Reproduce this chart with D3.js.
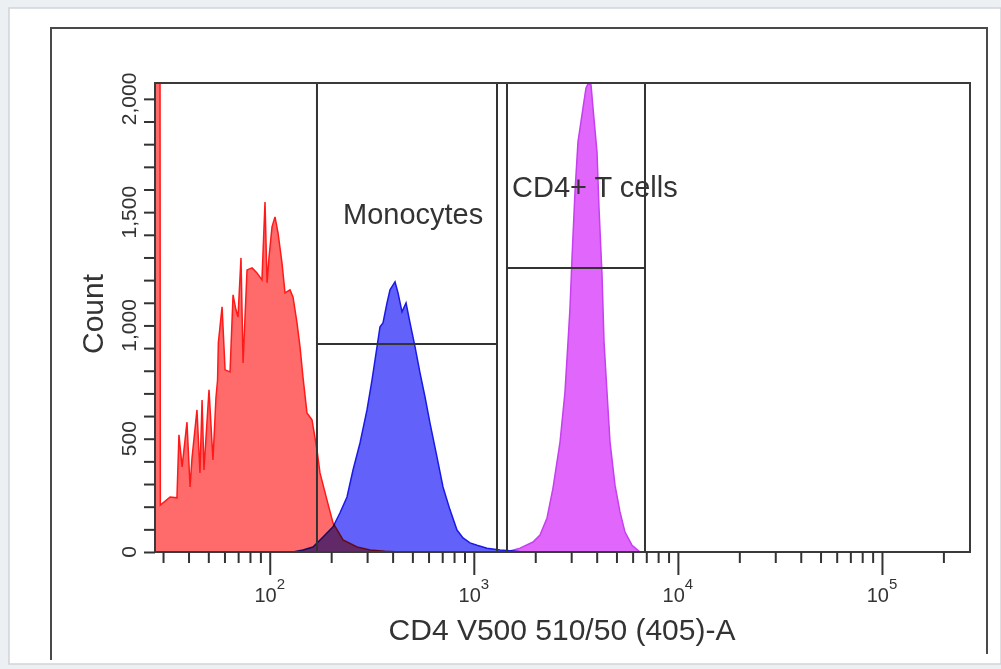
<!DOCTYPE html>
<html><head><meta charset="utf-8">
<script src="https://cdn.jsdelivr.net/npm/d3@7"></script>
<style>
html,body{margin:0;padding:0;background:#edf0f3;}
svg{display:block;font-family:"Liberation Sans",Arial,sans-serif;}
</style></head><body>
<svg id="chart" width="1001" height="669"></svg>
<script>
// ---- data ----
const redX = [27.4, 28.9, 29.1, 32.5, 35.1, 35.9, 37.2, 39.3, 40.7, 41.6, 44.0, 45.5, 46.6, 47.6, 50.4, 52.7, 54.5, 55.5, 56.0, 58.4, 60.4, 63.9, 66.1, 68.3, 69.9, 72.3, 74.0, 77.4, 81.9, 86.6, 91.6, 94.8, 97.0, 99.2, 102.6, 106.1, 109.8, 114.8, 118.8, 125.7, 130.0, 136.0, 140.7, 145.5, 152.2, 161.1, 170.4, 176.3, 190.8, 204.2, 228.6, 267.7, 309.9, 367.1, 434.8];
const redCount = [4000, 4000, 207, 243, 239, 517, 376, 573, 287, 415, 627, 349, 671, 362, 716, 406, 680, 759, 923, 1082, 804, 795, 1135, 1069, 1037, 1298, 834, 1245, 1254, 1232, 1201, 1545, 1188, 1302, 1435, 1479, 1409, 1276, 1144, 1157, 1126, 1011, 905, 772, 614, 583, 451, 349, 229, 128, 53, 22, 9, 3, 0];

const blueX = [130, 145.5, 162.9, 182.4, 204.2, 221.0, 239.1, 255.9, 276.9, 299.6, 317.0, 335.4, 347.0, 358.9, 375.5, 388.5, 411.1, 425.2, 444.8, 465.4, 486.9, 515.2, 544.9, 576.6, 610.0, 660.1, 706.3, 764.3, 827.1, 885.2, 957.9, 1036.6, 1160.2, 1344.2, 1556.0, 1750];
const blueCount = [0, 9, 22, 66, 111, 173, 243, 362, 481, 627, 759, 905, 994, 1011, 1099, 1157, 1192, 1144, 1060, 1099, 1011, 905, 791, 684, 569, 419, 287, 186, 97, 62, 40, 30, 17, 9, 4, 0];

const magX = [1400, 1504, 1684, 1950, 2110, 2284, 2443, 2645, 2797, 2894, 2960, 3028, 3132, 3239, 3428, 3546, 3627, 3752, 3837, 4014, 4106, 4248, 4345, 4494, 4649, 4918, 5203, 5506, 5958, 6523];
const magCount = [0, 4, 17, 44, 75, 150, 282, 485, 706, 927, 1077, 1298, 1590, 1810, 1960, 2048, 2066, 2062, 1960, 1766, 1518, 1223, 927, 706, 485, 295, 177, 88, 30, 0];

const gateNames = ["Monocytes", "CD4+ T cells"];
const gateLow = [170.4, 1454];
const gateHigh = [1299, 6899];
const gateLevel = [918, 1254];

const xMajorTicks = [100, 1000, 10000, 100000];
const xMajorExp = ["2", "3", "4", "5"];
const xMinorTicks = [30, 40, 50, 60, 70, 80, 90, 200, 300, 400, 500, 600, 700, 800, 900,
  2000, 3000, 4000, 5000, 6000, 7000, 8000, 9000,
  20000, 30000, 40000, 50000, 60000, 70000, 80000, 90000, 200000];
const yTicks = [0,100,200,300,400,500,600,700,800,900,1000,1100,1200,1300,1400,1500,1600,1700,1800,1900,2000];
const yLabelValues = [0, 500, 1000, 1500, 2000];
const yLabels = ["0", "500", "1,000", "1,500", "2,000"];
const xTitle = "CD4 V500 510/50 (405)-A";
const yTitle = "Count";

// ---- drawing ----
const svg = d3.select("#chart");
const L = 155, R = 970, T = 83, B = 552;
const x = d3.scaleLog().domain([27.4, 270000]).range([L, R]);
const y = d3.scaleLinear().domain([0, 2070]).range([B, T]);

// panel backgrounds
svg.append("rect").attr("x", 9).attr("y", 8).attr("width", 992).attr("height", 656)
  .attr("fill", "#fff").attr("stroke", "#cfd4d9").attr("stroke-width", 1.5);
svg.append("path").attr("d", `M51,660 L51,28 L987,28 L987,654`)
  .attr("fill", "none").attr("stroke", "#4a4a4a").attr("stroke-width", 2);

svg.append("defs").append("clipPath").attr("id", "plotclip")
  .append("rect").attr("x", L).attr("y", T).attr("width", R - L).attr("height", B - T);

const area = d3.area().x(d => x(d[0])).y0(y(0)).y1(d => y(d[1]));
const hist = svg.append("g").attr("clip-path", "url(#plotclip)");
const series = [
  {xs: redX, ys: redCount, fill: "#ff6a6a", stroke: "#ff1a1a"},
  {xs: blueX, ys: blueCount, fill: "#6262fa", stroke: "#1a1ae6"},
  {xs: magX, ys: magCount, fill: "#e066fc", stroke: "#c540ee"}
];
series.forEach(s => {
  hist.append("path").datum(s.xs.map((v, i) => [v, s.ys[i]]))
    .attr("d", area).attr("fill", s.fill).attr("stroke", s.stroke)
    .attr("stroke-width", 1.5).style("mix-blend-mode", "multiply");
});

// gates
const gates = svg.append("g").attr("stroke", "#333").attr("stroke-width", 2).attr("fill", "none");
gateLow.forEach((lo, i) => {
  const hi = gateHigh[i];
  gates.append("line").attr("x1", x(lo)).attr("x2", x(lo)).attr("y1", T).attr("y2", B);
  gates.append("line").attr("x1", x(hi)).attr("x2", x(hi)).attr("y1", T).attr("y2", B);
  gates.append("line").attr("x1", x(lo)).attr("x2", x(hi)).attr("y1", y(gateLevel[i])).attr("y2", y(gateLevel[i]));
});
svg.append("text").attr("x", 343).attr("y", 224).attr("font-size", 29).attr("fill", "#333").text(gateNames[0]);
svg.append("text").attr("x", 512).attr("y", 197).attr("font-size", 29).attr("fill", "#333").text(gateNames[1]);

// frame
svg.append("rect").attr("x", L).attr("y", T).attr("width", R - L).attr("height", B - T)
  .attr("fill", "none").attr("stroke", "#3a3a3a").attr("stroke-width", 2);

// x axis
const xMinor = svg.append("g").attr("transform", `translate(0,${B})`)
  .call(d3.axisBottom(x).tickValues(xMinorTicks).tickSize(11).tickFormat(""));
const xMajor = svg.append("g").attr("transform", `translate(0,${B})`)
  .call(d3.axisBottom(x).tickValues(xMajorTicks).tickSize(23).tickFormat(""));
[xMinor, xMajor].forEach(g => {
  g.select(".domain").remove();
  g.selectAll(".tick line").attr("stroke", "#333").attr("stroke-width", 2);
});
xMajorTicks.forEach((v, i) => {
  const t = svg.append("text").attr("x", x(v)).attr("y", 602).attr("text-anchor", "middle")
    .attr("font-size", 20).attr("fill", "#333");
  t.append("tspan").text("10");
  t.append("tspan").attr("font-size", 15).attr("dy", -13).text(xMajorExp[i]);
});

// y axis
const yAx = svg.append("g").attr("transform", `translate(${L},0)`)
  .call(d3.axisLeft(y).tickValues(yTicks).tickSize(11).tickFormat(""));
yAx.select(".domain").remove();
yAx.selectAll(".tick line").attr("stroke", "#333").attr("stroke-width", 2);
yLabelValues.forEach((v, i) => {
  svg.append("text").attr("transform", `translate(136,${y(v)}) rotate(-90)`)
    .attr("text-anchor", "middle").attr("font-size", 21).attr("fill", "#333").text(yLabels[i]);
});

// titles
svg.append("text").attr("x", 562).attr("y", 640).attr("text-anchor", "middle")
  .attr("font-size", 30).attr("fill", "#333").text(xTitle);
svg.append("text").attr("transform", `translate(103,314) rotate(-90)`).attr("text-anchor", "middle")
  .attr("font-size", 30).attr("fill", "#333").text(yTitle);
</script>
</body></html>
